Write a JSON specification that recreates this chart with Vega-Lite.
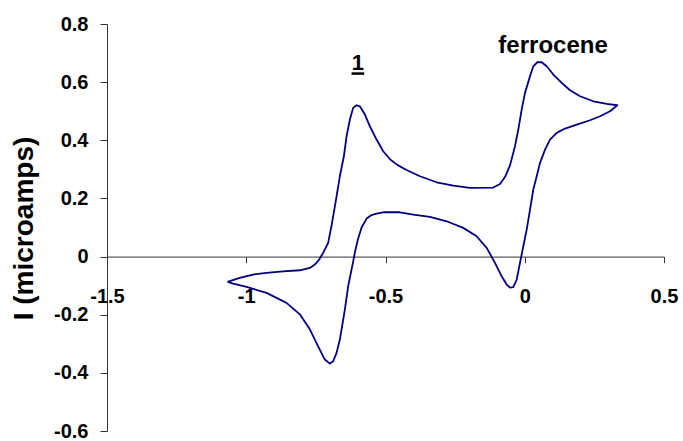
{
  "$schema": "https://vega.github.io/schema/vega-lite/v6.json",
  "width": 557,
  "height": 407,
  "autosize": {"type": "none"},
  "padding": {"left": 107, "top": 24, "right": 19, "bottom": 10},
  "background": "white",
  "config": {
    "view": {"stroke": null},
    "font": "Liberation Sans"
  },
  "datasets": {
    "cv": [
      {"i": 1, "x": -1.0674, "y": -0.087},
      {"i": 2, "x": -1.0232, "y": -0.0733},
      {"i": 3, "x": -0.9754, "y": -0.0619},
      {"i": 4, "x": -0.9272, "y": -0.0561},
      {"i": 5, "x": -0.8676, "y": -0.0506},
      {"i": 6, "x": -0.8076, "y": -0.0471},
      {"i": 7, "x": -0.7717, "y": -0.0389},
      {"i": 8, "x": -0.7537, "y": -0.0275},
      {"i": 9, "x": -0.7382, "y": -0.0103},
      {"i": 10, "x": -0.7239, "y": 0.0127},
      {"i": 11, "x": -0.7059, "y": 0.0471},
      {"i": 12, "x": -0.6937, "y": 0.1066},
      {"i": 13, "x": -0.6757, "y": 0.2074},
      {"i": 14, "x": -0.6639, "y": 0.2762},
      {"i": 15, "x": -0.6495, "y": 0.345},
      {"i": 16, "x": -0.6398, "y": 0.4138},
      {"i": 17, "x": -0.6279, "y": 0.4713},
      {"i": 18, "x": -0.6161, "y": 0.5115},
      {"i": 19, "x": -0.6039, "y": 0.5205},
      {"i": 20, "x": -0.592, "y": 0.517},
      {"i": 21, "x": -0.574, "y": 0.4885},
      {"i": 22, "x": -0.5561, "y": 0.4482},
      {"i": 23, "x": -0.532, "y": 0.4025},
      {"i": 24, "x": -0.5083, "y": 0.3622},
      {"i": 25, "x": -0.482, "y": 0.333},
      {"i": 26, "x": -0.456, "y": 0.3145},
      {"i": 27, "x": -0.4264, "y": 0.2985},
      {"i": 28, "x": -0.3764, "y": 0.2762},
      {"i": 29, "x": -0.3164, "y": 0.2556},
      {"i": 30, "x": -0.2567, "y": 0.2442},
      {"i": 31, "x": -0.1967, "y": 0.2363},
      {"i": 32, "x": -0.113, "y": 0.2374},
      {"i": 33, "x": -0.0889, "y": 0.2494},
      {"i": 34, "x": -0.071, "y": 0.2735},
      {"i": 35, "x": -0.053, "y": 0.3137},
      {"i": 36, "x": -0.035, "y": 0.3794},
      {"i": 37, "x": -0.0232, "y": 0.4369},
      {"i": 38, "x": -0.011, "y": 0.5057},
      {"i": 39, "x": 0.0009, "y": 0.5631},
      {"i": 40, "x": 0.0189, "y": 0.6202},
      {"i": 41, "x": 0.0307, "y": 0.6546},
      {"i": 42, "x": 0.0451, "y": 0.6684},
      {"i": 43, "x": 0.0609, "y": 0.6684},
      {"i": 44, "x": 0.0789, "y": 0.6546},
      {"i": 45, "x": 0.1026, "y": 0.6261},
      {"i": 46, "x": 0.1328, "y": 0.5975},
      {"i": 47, "x": 0.1626, "y": 0.5721},
      {"i": 48, "x": 0.1985, "y": 0.5514},
      {"i": 49, "x": 0.2463, "y": 0.5342},
      {"i": 50, "x": 0.2945, "y": 0.5253},
      {"i": 51, "x": 0.3326, "y": 0.5205},
      {"i": 52, "x": 0.3063, "y": 0.4998},
      {"i": 53, "x": 0.2704, "y": 0.4826},
      {"i": 54, "x": 0.2345, "y": 0.4689},
      {"i": 55, "x": 0.1867, "y": 0.4541},
      {"i": 56, "x": 0.1446, "y": 0.4403},
      {"i": 57, "x": 0.1148, "y": 0.4255},
      {"i": 58, "x": 0.0907, "y": 0.4025},
      {"i": 59, "x": 0.0728, "y": 0.3681},
      {"i": 60, "x": 0.0548, "y": 0.3223},
      {"i": 61, "x": 0.0429, "y": 0.2762},
      {"i": 62, "x": 0.0307, "y": 0.2305},
      {"i": 63, "x": 0.0189, "y": 0.1617},
      {"i": 64, "x": 0.007, "y": 0.0929},
      {"i": 65, "x": -0.0052, "y": 0.0354},
      {"i": 66, "x": -0.0171, "y": -0.0217},
      {"i": 67, "x": -0.0289, "y": -0.0791},
      {"i": 68, "x": -0.0411, "y": -0.1049},
      {"i": 69, "x": -0.053, "y": -0.1066},
      {"i": 70, "x": -0.0649, "y": -0.0963},
      {"i": 71, "x": -0.0829, "y": -0.0678},
      {"i": 72, "x": -0.1069, "y": -0.0217},
      {"i": 73, "x": -0.1367, "y": 0.0299},
      {"i": 74, "x": -0.1727, "y": 0.0698},
      {"i": 75, "x": -0.2208, "y": 0.0987},
      {"i": 76, "x": -0.2804, "y": 0.1214},
      {"i": 77, "x": -0.3405, "y": 0.1366},
      {"i": 78, "x": -0.4005, "y": 0.1445},
      {"i": 79, "x": -0.4483, "y": 0.1524},
      {"i": 80, "x": -0.5083, "y": 0.1524},
      {"i": 81, "x": -0.532, "y": 0.1479},
      {"i": 82, "x": -0.55, "y": 0.1428},
      {"i": 83, "x": -0.5679, "y": 0.1307},
      {"i": 84, "x": -0.5859, "y": 0.0998},
      {"i": 85, "x": -0.5992, "y": 0.0585},
      {"i": 86, "x": -0.61, "y": 0.0138},
      {"i": 87, "x": -0.6161, "y": -0.0172},
      {"i": 88, "x": -0.6341, "y": -0.1022},
      {"i": 89, "x": -0.6459, "y": -0.1823},
      {"i": 90, "x": -0.6639, "y": -0.2855},
      {"i": 91, "x": -0.6757, "y": -0.3313},
      {"i": 92, "x": -0.688, "y": -0.3602},
      {"i": 93, "x": -0.6998, "y": -0.3681},
      {"i": 94, "x": -0.7178, "y": -0.3543},
      {"i": 95, "x": -0.7419, "y": -0.3086},
      {"i": 96, "x": -0.7717, "y": -0.2504},
      {"i": 97, "x": -0.8076, "y": -0.1988},
      {"i": 98, "x": -0.8554, "y": -0.1593},
      {"i": 99, "x": -0.9272, "y": -0.1249},
      {"i": 100, "x": -0.9991, "y": -0.1042},
      {"i": 101, "x": -1.0472, "y": -0.0929},
      {"i": 102, "x": -1.0674, "y": -0.087}
    ],
    "labels": [
      {"x": -0.599, "y": 0.6415, "label": "1", "size": 22},
      {"x": 0.1016, "y": 0.7018, "label": "ferrocene", "size": 24}
    ],
    "underline": [
      {"x": -0.622, "x2": -0.5766, "y": 0.6295}
    ]
  },
  "encoding": {
    "x": {
      "field": "x",
      "type": "quantitative",
      "scale": {"domain": [-1.5, 0.5], "nice": false, "zero": false},
      "axis": {
        "title": null,
        "orient": "bottom",
        "offset": -174.4,
        "values": [-1.5, -1, -0.5, 0, 0.5],
        "labelExpr": "'' + round(datum.value * 10) / 10",
        "grid": false,
        "domainColor": "#333333",
        "domainWidth": 1,
        "tickColor": "#333333",
        "tickWidth": 1,
        "tickSize": 6,
        "labelPadding": 24,
        "labelFont": "Liberation Sans",
        "labelFontSize": 20,
        "labelFontWeight": "bold",
        "labelColor": "#000000",
        "labelOverlap": false,
        "labelFlush": false,
        "labelBound": false
      }
    },
    "y": {
      "field": "y",
      "type": "quantitative",
      "scale": {"domain": [-0.6, 0.8], "nice": false, "zero": false},
      "axis": {
        "title": "I (microamps)",
        "values": [-0.6, -0.4, -0.2, 0, 0.2, 0.4, 0.6, 0.8],
        "labelExpr": "'' + round(datum.value * 10) / 10",
        "grid": false,
        "domainColor": "#333333",
        "domainWidth": 1,
        "tickColor": "#333333",
        "tickWidth": 1,
        "tickSize": 7,
        "labelPadding": 12,
        "labelFont": "Liberation Sans",
        "labelFontSize": 20,
        "labelFontWeight": "bold",
        "labelColor": "#000000",
        "labelOverlap": false,
        "labelFlush": false,
        "labelBound": false,
        "titleFont": "Liberation Sans",
        "titleFontSize": 28,
        "titleFontWeight": "bold",
        "titleColor": "#000000",
        "titleX": -75,
        "titleY": 204,
        "titleAngle": -90,
        "titleAlign": "center",
        "titleBaseline": "alphabetic"
      }
    }
  },
  "layer": [
    {
      "data": {"name": "cv"},
      "mark": {"type": "line", "color": "#000080", "strokeWidth": 1.8, "strokeJoin": "round"},
      "encoding": {
        "order": {"field": "i", "type": "quantitative"}
      }
    },
    {
      "data": {"name": "labels"},
      "mark": {"type": "text", "font": "Liberation Sans", "fontWeight": "bold", "color": "#000000", "align": "center", "baseline": "alphabetic"},
      "encoding": {
        "text": {"field": "label", "type": "nominal"},
        "size": {"field": "size", "type": "quantitative", "scale": null}
      }
    },
    {
      "data": {"name": "underline"},
      "mark": {"type": "rule", "color": "#000000", "strokeWidth": 2.5},
      "encoding": {
        "x2": {"field": "x2"}
      }
    }
  ]
}
